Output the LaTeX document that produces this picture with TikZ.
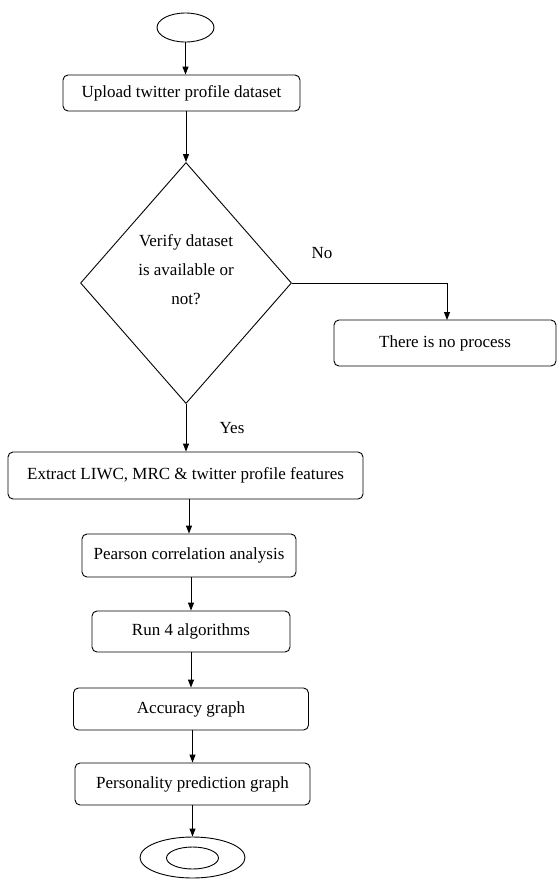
\documentclass[tikz,border=0pt]{standalone}
\usepackage{fontspec}
\setmainfont{Liberation Serif}
\usetikzlibrary{shapes.geometric,arrows.meta}
\begin{document}
\begin{tikzpicture}[x=1pt,y=-1pt,
  box/.style={draw,rounded corners=5pt,line width=0.9pt,inner sep=0pt},
  oval/.style={draw,ellipse,line width=0.9pt,inner sep=0pt},
  arr/.style={-{Triangle[length=8pt,width=6pt]},line width=0.9pt},
  lbl/.style={font=\fontsize{17}{19.5}\selectfont}]
\useasboundingbox (0,0) rectangle (559,879);
\node[oval,minimum width=57pt,minimum height=29pt] (start) at (185.5,27.5) {};
\node[box,minimum width=237pt,minimum height=36pt,lbl] (upload) at (181.5,93) {Upload twitter profile dataset};
\node[draw,diamond,line width=0.9pt,minimum width=211pt,minimum height=241pt,inner sep=0pt] (verify) at (186,283) {};
\node[align=center,font=\fontsize{17}{29}\selectfont] (vtext) at (186,270) {Verify dataset\\is available or\\not?};
\node[box,minimum width=222pt,minimum height=46pt,lbl] (nop) at (445,343) {There is no process};
\node[box,minimum width=355pt,minimum height=47pt,lbl] (extract) at (185.5,475.5) {Extract LIWC, MRC \& twitter profile features};
\node[box,minimum width=214pt,minimum height=43pt,lbl] (pearson) at (189,555.5) {Pearson correlation analysis};
\node[box,minimum width=198pt,minimum height=41pt,lbl] (run) at (191,631.5) {Run 4 algorithms};
\node[box,minimum width=235pt,minimum height=42pt,lbl] (acc) at (191,709) {Accuracy graph};
\node[box,minimum width=235pt,minimum height=42pt,lbl] (pers) at (192.5,784) {Personality prediction graph};
\node[oval,minimum width=105pt,minimum height=41pt] (stop) at (192.5,857.5) {};
\node[oval,minimum width=52pt,minimum height=22pt] (stopin) at (192.5,858) {};
\node[lbl] (no) at (322,253) {No};
\node[lbl] (yes) at (232,428) {Yes};
\coordinate (nopin) at (447,320);
\draw[arr] (start.south) -- (start.south |- upload.north);
\draw[arr] (upload.south -| verify.north) -- (verify.north);
\draw[arr] (verify.east) -| (nopin);
\draw[arr] (verify.south) -- (verify.south |- extract.north);
\draw[arr] (extract.south -| pearson.north) -- (pearson.north);
\draw[arr] (run.north |- pearson.south) -- (run.north);
\draw[arr] (run.south) -- (run.south |- acc.north);
\draw[arr] (pers.north |- acc.south) -- (pers.north);
\draw[arr] (pers.south) -- (pers.south |- stop.north);
\end{tikzpicture}
\end{document}
